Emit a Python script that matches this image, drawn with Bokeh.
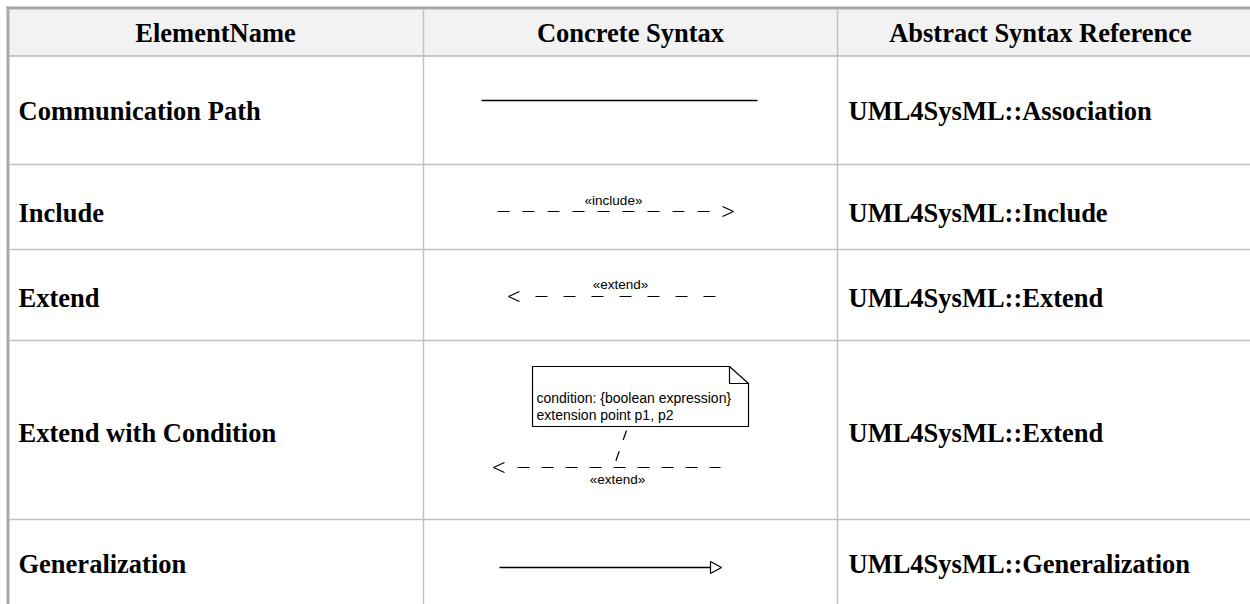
from bokeh.plotting import figure
from bokeh.models import Range1d
from bokeh.core.properties import value
from bokeh.embed import file_html
from bokeh.resources import INLINE

# ---------------- data ----------------
headers = ["ElementName", "Concrete Syntax", "Abstract Syntax Reference"]
element_names = ["Communication Path", "Include", "Extend",
                 "Extend with Condition", "Generalization"]
abstract_refs = ["UML4SysML::Association", "UML4SysML::Include",
                 "UML4SysML::Extend", "UML4SysML::Extend",
                 "UML4SysML::Generalization"]
include_label = "«include»"
extend_label = "«extend»"
note_lines = ["condition: {boolean expression}", "extension point p1, p2"]

# ---------------- layout (screen pixel coordinates) ----------------
W, H = 1250, 604
X0, Y0 = 0, 0
col_lines = [423, 837]
header_bottom = 55.5
row_lines = [164, 249, 340, 519]
row_text_y = [110, 212, 297, 432, 563]
header_x = [215, 630, 1040]
header_y = 32
col1_x, col3_x = 18, 848

SERIF = value("Liberation Serif")
SANS = value("Liberation Sans")
GRID = "#c2c2c2"
SERIF_SIZE = "26.5px"

p = figure(width=W, height=H, output_backend="svg", toolbar_location=None,
           x_range=Range1d(X0, X0 + W), y_range=Range1d(Y0 + H, Y0),
           min_border=0, outline_line_color=None, background_fill_color="white",
           border_fill_color="white")
p.xaxis.visible = False
p.yaxis.visible = False
p.xgrid.visible = False
p.ygrid.visible = False

# header background
p.quad(left=[9], right=[X0 + W], top=[9], bottom=[header_bottom],
       fill_color="#f2f2f2", line_color=None)

# grid lines
p.segment(x0=[9] * len(row_lines), x1=[X0 + W] * len(row_lines),
          y0=row_lines, y1=row_lines, line_color=GRID, line_width=1.5)
p.segment(x0=[9], x1=[X0 + W], y0=[header_bottom], y1=[header_bottom],
          line_color="#b4b4b4", line_width=1.5)
p.segment(x0=col_lines, x1=col_lines, y0=[9, 9], y1=[Y0 + H, Y0 + H],
          line_color=GRID, line_width=1.5)
# outer border (top, left)
p.segment(x0=[6, 7.5], x1=[X0 + W, 7.5], y0=[7.5, 6], y1=[7.5, Y0 + H],
          line_color="#a8a8a8", line_width=3)

# header text
p.text(x=header_x, y=[header_y] * 3, text=headers, text_font=SERIF,
       text_font_style="bold", text_font_size=SERIF_SIZE, text_align="center",
       text_baseline="middle", text_color="black")
# column 1 and column 3 texts
p.text(x=[col1_x] * len(element_names), y=row_text_y, text=element_names,
       text_font=SERIF, text_font_style="bold", text_font_size=SERIF_SIZE,
       text_align="left", text_baseline="middle", text_color="black")
p.text(x=[col3_x] * len(abstract_refs), y=row_text_y, text=abstract_refs,
       text_font=SERIF, text_font_style="bold", text_font_size=SERIF_SIZE,
       text_align="left", text_baseline="middle", text_color="black")

# ---- row 1: communication path (solid line)
p.segment(x0=[481], x1=[757], y0=[100], y1=[100], line_color="black", line_width=1.5)

# ---- row 2: include (dashed, open arrow to right)
p.line(x=[497, 712], y=[211, 211], line_color="black", line_width=1.2, line_dash="12 13")
p.line(x=[722, 733, 722], y=[206, 211, 216], line_color="black", line_width=1.2)
p.text(x=[613], y=[200], text=[include_label], text_font=SANS, text_font_size="13.5px",
       text_align="center", text_baseline="middle", text_color="black")

# ---- row 3: extend (open arrow to left, dashed)
p.line(x=[519, 508, 519], y=[291, 296, 301], line_color="black", line_width=1.2)
p.line(x=[535, 718], y=[296, 296], line_color="black", line_width=1.2, line_dash="12 16")
p.text(x=[620], y=[284], text=[extend_label], text_font=SANS, text_font_size="13.5px",
       text_align="center", text_baseline="middle", text_color="black")

# ---- row 4: extend with condition
p.patch(x=[532, 729, 748, 748, 532], y=[366, 366, 383, 426, 426],
        fill_color="white", line_color="black", line_width=1.2)
p.line(x=[729, 729, 748], y=[366, 383, 383], line_color="black", line_width=1.2)
p.text(x=[536, 536], y=[397, 414], text=note_lines, text_font=SANS,
       text_font_size="14px", text_align="left", text_baseline="middle",
       text_color="black")
p.line(x=[626, 613], y=[430, 467], line_color="black", line_width=1.2, line_dash="10 12")
p.line(x=[517, 720], y=[467, 467], line_color="black", line_width=1.2, line_dash="12 12")
p.line(x=[504, 493, 504], y=[462, 467, 472], line_color="black", line_width=1.2)
p.text(x=[617], y=[479], text=[extend_label], text_font=SANS, text_font_size="13.5px",
       text_align="center", text_baseline="middle", text_color="black")

# ---- row 5: generalization (solid line, hollow triangle)
p.segment(x0=[499], x1=[710], y0=[567], y1=[567], line_color="black", line_width=1.5)
p.patch(x=[710, 721, 710], y=[561, 567, 573], fill_color="white",
        line_color="black", line_width=1.2)

open("out.html", "w").write(file_html(p, INLINE))
